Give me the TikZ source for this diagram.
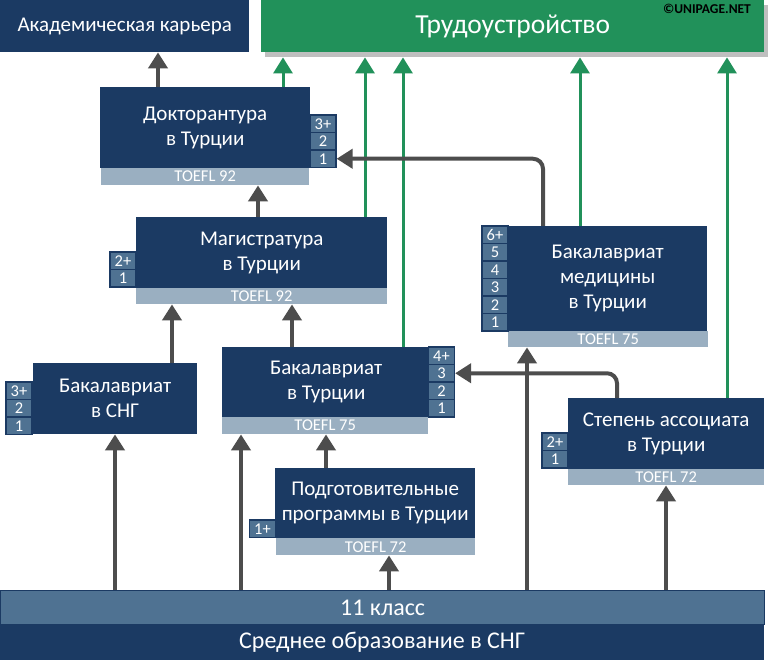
\documentclass[tikz,border=0pt]{standalone}
\usepackage{fontspec}
\setmainfont{Carlito}
\usetikzlibrary{arrows.meta}
\definecolor{azul}{HTML}{1B3A63}
\definecolor{celda}{HTML}{4F7292}
\definecolor{barra}{HTML}{9AAFC1}
\definecolor{verde}{HTML}{21915A}
\definecolor{oscuro}{HTML}{4D4D4D}
\definecolor{sombra}{HTML}{BFBFBF}
\tikzstyle{caja}=[fill=azul,text=white,inner sep=0pt,anchor=north west,align=center,font=\fontsize{21}{25}\selectfont]
\tikzstyle{toefl}=[fill=barra,text=white,inner sep=0pt,anchor=north west,font=\fontsize{16.5}{16.5}\selectfont]
\tikzstyle{curso}=[fill=celda,draw=azul,line width=1.2pt,text=white,inner sep=0pt,minimum width=26pt,minimum height=17.5pt,font=\fontsize{16.5}{16.5}\selectfont]
\tikzstyle{gris}=[draw=oscuro,line width=4pt,rounded corners=10pt,-{Triangle[length=16pt,width=19pt]}]
\tikzstyle{salida}=[draw=verde,line width=3pt,-{Triangle[length=16pt,width=19pt]}]

\begin{document}
\begin{tikzpicture}[x=1pt,y=-1pt]
    \useasboundingbox (0,0) rectangle (768,660);
    \node [caja,minimum width=249pt,minimum height=52pt] (acad) at (0,0) {Академическая карьера};
    \node [fill=sombra,inner sep=0pt,anchor=north west,minimum width=503pt,minimum height=52pt] (sombra) at (265,5) {};
    \node [caja,fill=verde,minimum width=503pt,minimum height=52pt,font=\fontsize{27.5}{27.5}\selectfont] (trabajo) at (261,0) {Трудоустройство};
    \node [text=black,font=\bfseries\fontsize{13.5}{13.5}\selectfont] (marca) at (707,9) {©UNIPAGE.NET};

    \node [caja,minimum width=210pt,minimum height=81pt] (doct) at (100,87) {Докторантура\\в Турции};
    \node [toefl,minimum width=208pt,minimum height=17pt] (tdoct) at (101,168) {TOEFL 92};
    \foreach \t [count=\i] in {3+,2,1}
        \node [curso] (d\i) at (323,106.25+17.5*\i) {\t};

    \node [caja,minimum width=251pt,minimum height=71pt] (mag) at (136,217) {Магистратура\\в Турции};
    \node [toefl,minimum width=251pt,minimum height=16pt] (tmag) at (136,288) {TOEFL 92};
    \foreach \t [count=\i] in {2+,1}
        \node [curso] (m\i) at (123,243.25+17.5*\i) {\t};

    \node [caja,minimum width=164pt,minimum height=71pt] (bsng) at (33,363) {Бакалавриат\\в СНГ};
    \foreach \t [count=\i] in {3+,2,1}
        \node [curso] (s\i) at (19,373.25+17.5*\i) {\t};

    \node [caja,minimum width=208pt,minimum height=70pt] (btur) at (222,347) {Бакалавриат\\в Турции};
    \node [toefl,minimum width=206pt,minimum height=17pt] (tbtur) at (222,417) {TOEFL 75};
    \foreach \t [count=\i] in {4+,3,2,1}
        \node [curso] (b\i) at (441.5,338.25+17.5*\i) {\t};

    \node [caja,minimum width=199pt,minimum height=105pt] (bmed) at (508,226) {Бакалавриат\\медицины\\в Турции};
    \node [toefl,minimum width=200pt,minimum height=16pt] (tbmed) at (508,331) {TOEFL 75};
    \foreach \t [count=\i] in {6+,5,4,3,2,1}
        \node [curso] (e\i) at (495,217.25+17.5*\i) {\t};

    \node [caja,minimum width=196pt,minimum height=71pt] (asoc) at (568,398) {Степень ассоциата\\в Турции};
    \node [toefl,minimum width=196pt,minimum height=16pt] (tasoc) at (568,469) {TOEFL 72};
    \foreach \t [count=\i] in {2+,1}
        \node [curso] (a\i) at (555,424.25+17.5*\i) {\t};

    \node [caja,minimum width=200pt,minimum height=70pt] (prep) at (275,468) {Подготовительные\\программы в Турции};
    \node [toefl,minimum width=199pt,minimum height=17pt] (tprep) at (276,538) {TOEFL 72};
    \node [curso] (p1) at (262.5,528.75) {1+};

    \node [caja,fill=celda,draw=azul,line width=1.2pt,minimum width=764pt,minimum height=34pt,font=\fontsize{24}{24}\selectfont] (clase) at (0,590) {11 класс};
    \node [caja,minimum width=764pt,minimum height=36pt,font=\fontsize{24}{24}\selectfont] (escuela) at (0,624) {Среднее образование в СНГ};

    \draw [gris] (doct.north -| 158,0) -- (acad.south -| 158,0);
    \draw [salida] (doct.north -| 283,0) -- (sombra.south -| 283,0);
    \draw [gris] (mag.north -| 258,0) -- (tdoct.south -| 258,0);
    \draw [salida] (mag.north -| 365,0) -- (sombra.south -| 365,0);
    \draw [gris] (bsng.north -| 172,0) -- (tmag.south -| 172,0);
    \draw [gris] (btur.north -| 292,0) -- (tmag.south -| 292,0);
    \draw [salida] (btur.north -| 403,0) -- (sombra.south -| 403,0);
    \draw [gris] (bmed.north -| 543,0) |- (d3.east);
    \draw [salida] (bmed.north -| 580,0) -- (sombra.south -| 580,0);
    \draw [gris] (asoc.north -| 617,0) |- (b2.east);
    \draw [salida] (asoc.north -| 727,0) -- (sombra.south -| 727,0);
    \draw [gris] (prep.north -| 326,0) -- (tbtur.south -| 326,0);
    \draw [gris] (clase.north -| 115,0) -- (bsng.south -| 115,0);
    \draw [gris] (clase.north -| 241,0) -- (tbtur.south -| 241,0);
    \draw [gris] (clase.north -| 389,0) -- (tprep.south -| 389,0);
    \draw [gris] (clase.north -| 527,0) -- (tbmed.south -| 527,0);
    \draw [gris] (clase.north -| 666,0) -- (tasoc.south -| 666,0);
\end{tikzpicture}
\end{document}
